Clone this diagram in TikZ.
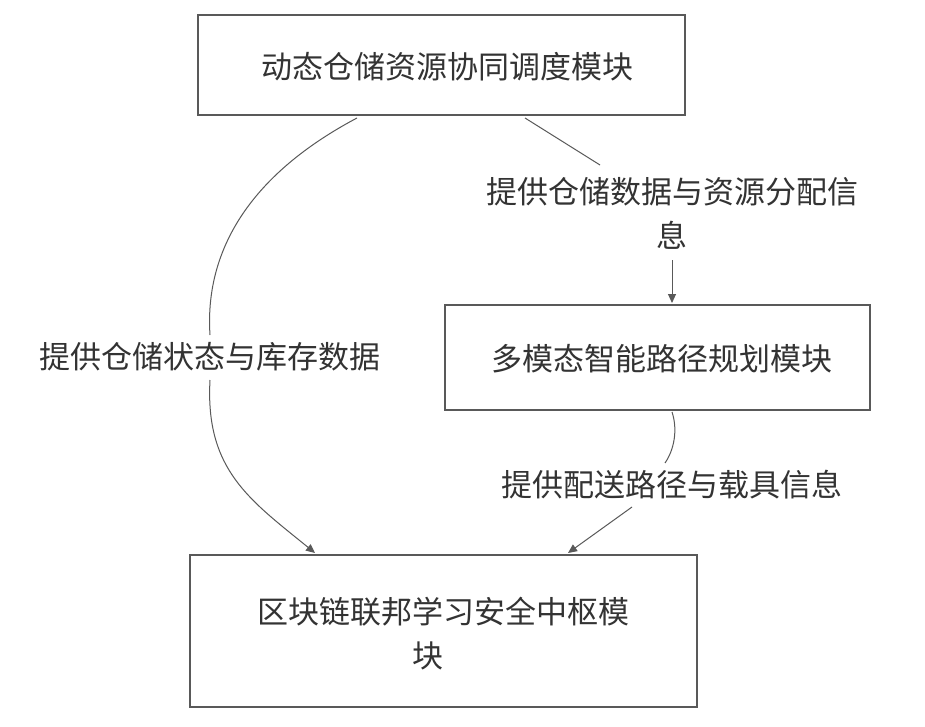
\documentclass[tikz,border=0pt]{standalone}
\usepackage{fontspec}
\setmainfont{Noto Sans CJK SC}
\usetikzlibrary{arrows.meta}
\begin{document}
\begin{tikzpicture}[x=1pt,y=-1pt,
  box/.style={draw=black!65,line width=1.2pt},
  lbl/.style={font=\fontsize{31}{44}\selectfont,text=black!80,inner sep=1pt},
  con/.style={draw=black!65,line width=1pt},
  arr/.style={con,-{Triangle[length=9pt,width=8pt]}}]
\useasboundingbox (0,0) rectangle (925,727);
\fill[white] (0,0) rectangle (925,727);
\draw[box] (198,15) rectangle (685,115);
\node[lbl] (a) at (447,67) {动态仓储资源协同调度模块};
\draw[box] (445,305) rectangle (870,410);
\node[lbl] (b) at (662,359) {多模态智能路径规划模块};
\draw[box] (190,555) rectangle (697,707);
\node[lbl,align=left] (c) at (443,634) {区块链联邦学习安全中枢模\\\hspace*{155pt}块};
\coordinate (a1) at (357,118);
\coordinate (a2) at (525,118);
\coordinate (c1) at (315,553);
\coordinate (c2) at (568,553);
\coordinate (b1) at (672,303);
\coordinate (b2) at (672,412);
\node[lbl] (l1) at (210,357) {提供仓储状态与库存数据};
\node[lbl,align=center] (l2) at (672,213) {提供仓储数据与资源分配信\\息};
\node[lbl] (l3) at (672,485) {提供配送路径与载具信息};
\draw[con] (a1) .. controls (240,180) and (205,260) .. (210,335);
\draw[arr] (210,380) .. controls (205,470) and (250,500) .. (c1);
\draw[con] (a2) -- (600,165);
\draw[arr] (672,260) -- (b1);
\draw[con] (b2) .. controls (678,430) and (674,450) .. (665,463);
\draw[arr] (632,507) -- (c2);
\end{tikzpicture}
\end{document}
